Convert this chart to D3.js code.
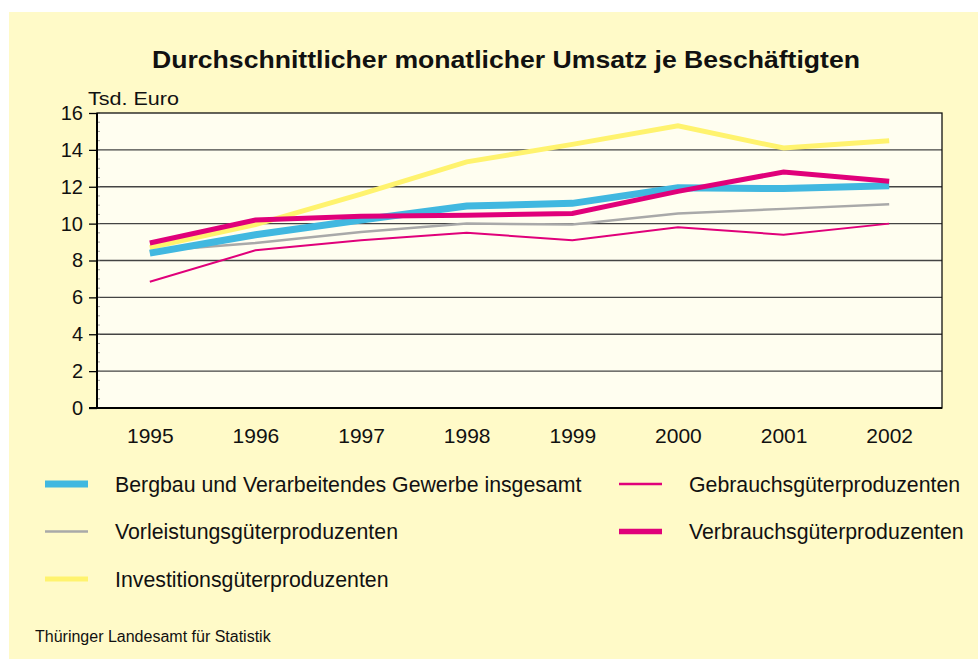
<!DOCTYPE html>
<html><head><meta charset="utf-8">
<script src="https://cdn.jsdelivr.net/npm/d3@7"></script>
<style>body{margin:0;background:#fff;}svg{display:block;font-family:"Liberation Sans",Arial,sans-serif;}</style>
</head><body><svg id="c" width="978" height="659"></svg>
<script>
const years = ["1995","1996","1997","1998","1999","2000","2001","2002"];
const yTicks = [0,2,4,6,8,10,12,14,16];
const gesamt = [8.4, 9.4, 10.2, 10.95, 11.1, 11.95, 11.9, 12.05];
const vorleistung = [8.5, 8.95, 9.55, 10.0, 9.95, 10.55, 10.8, 11.05];
const investition = [8.7, 9.95, 11.6, 13.35, 14.3, 15.3, 14.1, 14.5];
const gebrauch = [6.85, 8.55, 9.1, 9.5, 9.1, 9.8, 9.4, 10.0];
const verbrauch = [8.95, 10.2, 10.4, 10.45, 10.55, 11.75, 12.8, 12.3];
const seriesNames = ["Bergbau und Verarbeitendes Gewerbe insgesamt","Vorleistungsgüterproduzenten","Investitionsgüterproduzenten","Gebrauchsgüterproduzenten","Verbrauchsgüterproduzenten"];

const series = [
  {name: seriesNames[1], values: vorleistung, color: "#a9a9a9", w: 2.5, lw: 2.5},
  {name: seriesNames[3], values: gebrauch, color: "#e0007a", w: 2, lw: 2.5},
  {name: seriesNames[2], values: investition, color: "#fff36e", w: 5, lw: 5},
  {name: seriesNames[0], values: gesamt, color: "#41b8e0", w: 7, lw: 7},
  {name: seriesNames[4], values: verbrauch, color: "#e0007a", w: 5, lw: 5.5}
];

const svg = d3.select("#c");
svg.append("rect").attr("x",9).attr("y",12).attr("width",969).attr("height",647).attr("fill","#fffac8");

const L=97, R=942, T=113, B=408;
const x = d3.scalePoint().domain(years).range([L,R]).padding(0.5);
const y = d3.scaleLinear().domain([0,16]).range([B,T]);

svg.append("rect").attr("x",L).attr("y",T).attr("width",R-L).attr("height",B-T).attr("fill","#fffef0");

// gridlines
svg.append("g").selectAll("line").data(yTicks.filter(d=>d>0&&d<16)).join("line")
  .attr("x1",L).attr("x2",R).attr("y1",d=>y(d)).attr("y2",d=>y(d))
  .attr("stroke","#444").attr("stroke-width",1.3);

// minor ticks inside left axis
svg.append("g").selectAll("line").data(d3.range(0,16.01,0.5)).join("line")
  .attr("x1",L).attr("x2",L+3).attr("y1",d=>y(d)).attr("y2",d=>y(d))
  .attr("stroke","#777").attr("stroke-width",0.7);

// border
svg.append("rect").attr("x",L).attr("y",T).attr("width",R-L).attr("height",B-T)
  .attr("fill","none").attr("stroke","#111").attr("stroke-width",1.3);
svg.append("line").attr("x1",L).attr("x2",L).attr("y1",T).attr("y2",B).attr("stroke","#000").attr("stroke-width",2);
svg.append("line").attr("x1",L-8).attr("x2",R).attr("y1",B).attr("y2",B).attr("stroke","#000").attr("stroke-width",2);

// y axis
const yAxis = d3.axisLeft(y).tickValues(yTicks).tickSize(8).tickPadding(6);
const gy = svg.append("g").attr("transform",`translate(${L},0)`).call(yAxis);
gy.select(".domain").remove();
gy.selectAll("line").attr("stroke","#000").attr("stroke-width",1.3);
gy.selectAll("text").attr("font-size",20).attr("fill","#111").attr("font-family","Liberation Sans, Arial, sans-serif");

// x axis
const xAxis = d3.axisBottom(x).tickSize(0).tickPadding(0);
const gx = svg.append("g").attr("transform",`translate(0,${B})`).call(xAxis);
gx.select(".domain").remove();
gx.selectAll("text").attr("font-size",21).attr("fill","#111").attr("dy",null).attr("y",35)
  .attr("font-family","Liberation Sans, Arial, sans-serif");

// lines
const line = d3.line().x((d,i)=>x(years[i])).y(d=>y(d));
svg.append("g").selectAll("path").data(series).join("path")
  .attr("d",d=>line(d.values)).attr("fill","none")
  .attr("stroke",d=>d.color).attr("stroke-width",d=>d.w)
  .attr("stroke-linejoin","miter");

// title
svg.append("text").attr("x",152).attr("y",68)
  .attr("font-size",24.5).attr("font-weight","bold").attr("fill","#111")
  .attr("textLength",708).attr("lengthAdjust","spacingAndGlyphs")
  .text("Durchschnittlicher monatlicher Umsatz je Beschäftigten");
svg.append("text").attr("x",88).attr("y",105).attr("font-size",19).attr("fill","#111")
  .attr("textLength",91).attr("lengthAdjust","spacingAndGlyphs").text("Tsd. Euro");

// legend
const legend = [
  {s: series[3], x: 45, tx: 115, y: 484, tl: 468},
  {s: series[0], x: 45, tx: 115, y: 531.5, tl: null},
  {s: series[2], x: 45, tx: 115, y: 579, tl: null},
  {s: series[1], x: 619, tx: 689, y: 484, tl: null},
  {s: series[4], x: 619, tx: 689, y: 531.5, tl: null}
];
const lg = svg.append("g").selectAll("g").data(legend).join("g");
lg.append("line").attr("x1",d=>d.x).attr("x2",d=>d.x+43).attr("y1",d=>d.y).attr("y2",d=>d.y)
  .attr("stroke",d=>d.s.color).attr("stroke-width",d=>d.s.lw);
lg.append("text").attr("x",d=>d.tx).attr("y",d=>d.y+7.5).attr("font-size",21.3).attr("fill","#111").text(d=>d.s.name);

svg.append("text").attr("x",35).attr("y",642).attr("font-size",16).attr("fill","#111").text("Thüringer Landesamt für Statistik");
</script></body></html>
